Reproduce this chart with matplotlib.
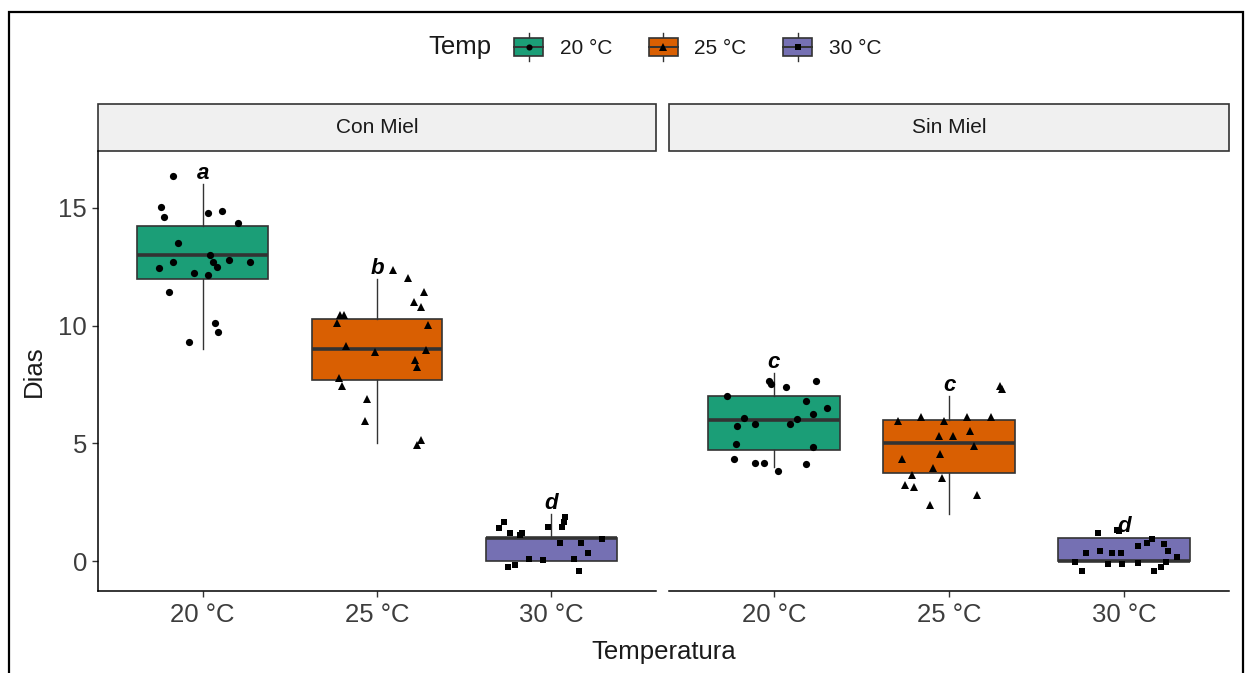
import matplotlib
matplotlib.use("Agg")
import matplotlib.pyplot as plt
from matplotlib.patches import Rectangle, Patch
from matplotlib.lines import Line2D
from matplotlib.legend_handler import HandlerBase

plt.rcParams['font.family'] = ['Liberation Sans', 'DejaVu Sans']

# ---------------- data ----------------
temps = ["20 °C", "25 °C", "30 °C"]
panels = ["Con Miel", "Sin Miel"]
colors = ["#1B9E77", "#D95F02", "#7570B3"]
markers = ["o", "^", "s"]

# box statistics (per temperature) for each panel
con_lo = [9, 5, 0]
con_q1 = [12, 7.7, 0]
con_med = [13, 9, 1]
con_q3 = [14.25, 10.27, 1]
con_hi = [16, 12, 2]
con_letters = ["a", "b", "d"]

sin_lo = [4, 2, 0]
sin_q1 = [4.72, 3.73, 0]
sin_med = [6, 5, 0]
sin_q3 = [7, 6, 1]
sin_hi = [8, 7, 1]
sin_letters = ["c", "c", "d"]

# jittered observations: values and horizontal jitter (category units)
con20_y = [16.36, 15.06, 14.63, 14.80, 14.86, 14.38, 13.50, 13.0, 12.72, 12.44,
           12.72, 12.51, 12.79, 12.72, 12.23, 12.16, 11.45, 10.10, 9.72, 9.29]
con20_dx = [-0.17, -0.24, -0.22, 0.03, 0.11, 0.20, -0.14, 0.04, -0.17, -0.25,
            0.06, 0.08, 0.15, 0.27, -0.05, 0.03, -0.19, 0.07, 0.09, -0.08]
con25_y = [12.37, 12.01, 11.45, 11.02, 10.81, 10.45, 10.45, 10.10, 10.03, 9.15,
           8.90, 8.97, 8.54, 8.23, 7.76, 7.45, 6.88, 5.95, 5.14, 4.93]
con25_dx = [0.09, 0.18, 0.27, 0.21, 0.25, -0.21, -0.19, -0.23, 0.29, -0.18,
            -0.01, 0.28, 0.22, 0.23, -0.22, -0.20, -0.06, -0.07, 0.25, 0.23]
con30_y = [1.67, 1.39, 1.18, 1.10, 1.20, 1.46, 1.46, 1.88, 1.67, 0.78,
           0.75, 0.33, 0.96, 0.11, 0.04, 0.08, -0.17, -0.27, -0.41]
con30_dx = [-0.27, -0.30, -0.24, -0.18, -0.17, -0.02, 0.06, 0.08, 0.07, 0.05,
            0.17, 0.21, 0.29, -0.13, -0.05, 0.13, -0.21, -0.25, 0.16]

sin20_y = [7.66, 7.52, 7.38, 7.66, 7.03, 6.81, 6.52, 6.25, 6.09, 6.02,
           5.74, 5.81, 5.81, 4.96, 4.83, 4.33, 4.18, 4.18, 4.11, 3.82]
sin20_dx = [-0.03, -0.02, 0.07, 0.24, -0.27, 0.18, 0.30, 0.22, -0.17, 0.13,
            -0.21, -0.11, 0.09, -0.22, 0.22, -0.23, -0.11, -0.06, 0.18, 0.02]
sin25_y = [7.44, 7.30, 5.96, 6.13, 5.96, 6.13, 6.13, 5.52, 5.33, 5.31,
           4.89, 4.32, 4.53, 3.97, 3.65, 3.54, 3.23, 3.16, 2.80, 2.38]
sin25_dx = [0.29, 0.30, -0.29, -0.16, -0.03, 0.10, 0.24, 0.12, -0.06, 0.02,
            0.14, -0.27, -0.05, -0.09, -0.21, -0.04, -0.25, -0.20, 0.16, -0.11]
sin30_y = [1.18, 1.32, 1.29, 0.96, 0.75, 0.64, 0.71, 0.44, 0.18, 0.33, 0.44,
           0.33, 0.33, -0.03, -0.14, -0.14, -0.10, -0.03, -0.41, -0.41, -0.24]
sin30_dx = [-0.15, -0.04, -0.03, 0.16, 0.13, 0.08, 0.23, 0.25, 0.30, -0.22, -0.14,
            -0.07, -0.02, -0.28, -0.09, -0.01, 0.08, 0.24, -0.24, 0.17, 0.21]

panel_data = [
    dict(lo=con_lo, q1=con_q1, med=con_med, q3=con_q3, hi=con_hi, letters=con_letters,
         ys=[con20_y, con25_y, con30_y], dxs=[con20_dx, con25_dx, con30_dx]),
    dict(lo=sin_lo, q1=sin_q1, med=sin_med, q3=sin_q3, hi=sin_hi, letters=sin_letters,
         ys=[sin20_y, sin25_y, sin30_y], dxs=[sin20_dx, sin25_dx, sin30_dx]),
]

# ---------------- figure ----------------
W, H = 1245, 673
fig = plt.figure(figsize=(W / 100, H / 100), dpi=100)

def fx(px):
    return px / W

def fy(py):
    return 1 - py / H

panel_px = [(98, 656), (669, 1229)]
top_px, bot_px = 151, 591
EDGE = "#333333"
MS = {'o': 5.2, '^': 6.2, 's': 5.0}

axes = []
for i, (l, r) in enumerate(panel_px):
    ax = fig.add_axes([fx(l), fy(bot_px), fx(r - l), (bot_px - top_px) / H])
    axes.append(ax)
    d = panel_data[i]
    stats = []
    for j in range(3):
        stats.append(dict(whislo=d['lo'][j], q1=d['q1'][j], med=d['med'][j],
                          q3=d['q3'][j], whishi=d['hi'][j], fliers=[]))
    bp = ax.bxp(stats, positions=[1, 2, 3], widths=0.75, patch_artist=True,
                showcaps=False, showfliers=False,
                boxprops=dict(edgecolor=EDGE, linewidth=1.2),
                medianprops=dict(color=EDGE, linewidth=2.6),
                whiskerprops=dict(color=EDGE, linewidth=1.0))
    for patch, c in zip(bp['boxes'], colors):
        patch.set_facecolor(c)
    for j in range(3):
        xs = [j + 1 + dx for dx in d['dxs'][j]]
        ax.plot(xs, d['ys'][j], ls='none', marker=markers[j], color='black',
                ms=MS[markers[j]], mew=0, zorder=4)
        ax.text(j + 1, d['hi'][j] + 0.45, d['letters'][j], ha='center', va='center',
                fontsize=16, fontweight='bold', fontstyle='italic', color='black', zorder=5)
    ax.set_xlim(0.4, 3.6)
    ax.set_ylim(-1.27, 17.42)
    ax.set_xticks([1, 2, 3])
    ax.set_xticklabels(temps)
    ax.set_yticks([0, 5, 10, 15])
    ax.tick_params(axis='both', labelsize=18.5, colors=EDGE, length=4, width=1.0,
                   labelcolor='#3D3D3D')
    ax.tick_params(axis='x', pad=5)
    ax.tick_params(axis='y', pad=4)
    for s in ['top', 'right']:
        ax.spines[s].set_visible(False)
    ax.spines['bottom'].set_linewidth(1.1)
    ax.spines['left'].set_linewidth(1.1)
    if i == 1:
        ax.spines['left'].set_visible(False)
        ax.tick_params(axis='y', left=False, labelleft=False)
    # strip
    sh = 47 / (bot_px - top_px)
    ax.add_patch(Rectangle((0, 1), 1, sh, transform=ax.transAxes, clip_on=False,
                           facecolor='#F0F0F0', edgecolor=EDGE, linewidth=1.2))
    ax.text(0.5, 1 + sh / 2, panels[i], transform=ax.transAxes, ha='center',
            va='center', fontsize=15, color='#1A1A1A')

fig.text(fx(34), fy(371), "Dias", rotation=90, ha='center', va='center',
         fontsize=18.5, color='#1A1A1A')
fig.text(fx(663.5), fy(652), "Temperatura", ha='center', va='center',
         fontsize=18.5, color='#1A1A1A')

# ---------------- legend ----------------
class BoxKey(HandlerBase):
    def __init__(self, face, marker):
        super().__init__()
        self.face = face
        self.marker = marker

    def create_artists(self, legend, orig_handle, xdescent, ydescent, width,
                       height, fontsize, trans):
        x0, y0 = -xdescent, -ydescent
        cx = x0 + width / 2
        bh = height * 0.66
        by = y0 + (height - bh) / 2
        w1 = Line2D([cx, cx], [y0, by], color=EDGE, lw=1.0, transform=trans)
        w2 = Line2D([cx, cx], [by + bh, y0 + height], color=EDGE, lw=1.0, transform=trans)
        rect = Rectangle((x0, by), width, bh, facecolor=self.face, edgecolor=EDGE,
                         lw=1.2, transform=trans)
        med = Line2D([x0, x0 + width], [by + bh / 2] * 2, color=EDGE, lw=1.4,
                     transform=trans)
        ms = 4.4 if self.marker != '^' else 5.4
        mk = Line2D([cx], [by + bh / 2], marker=self.marker, color='black', ms=ms,
                    mew=0, ls='none', transform=trans)
        return [w1, w2, rect, med, mk]

handles = [Patch() for _ in temps]
hmap = {h: BoxKey(c, m) for h, c, m in zip(handles, colors, markers)}
fig.legend(handles, temps, handler_map=hmap, loc='center left',
           bbox_to_anchor=(fx(514), fy(47)), ncol=3, frameon=False,
           borderpad=0, borderaxespad=0, handletextpad=0.8, columnspacing=1.75,
           handlelength=1.4, handleheight=1.65, fontsize=15,
           labelcolor='#1A1A1A')
fig.text(fx(428), fy(47), "Temp", ha='left', va='center', fontsize=18.5,
         color='#1A1A1A')

# outer frame
fig.patches.append(Rectangle((fx(9), -0.1), fx(1243 - 9), fy(12) + 0.1,
                             transform=fig.transFigure, fill=False,
                             edgecolor='black', linewidth=1.6))

fig.savefig("out.png", dpi=100)
